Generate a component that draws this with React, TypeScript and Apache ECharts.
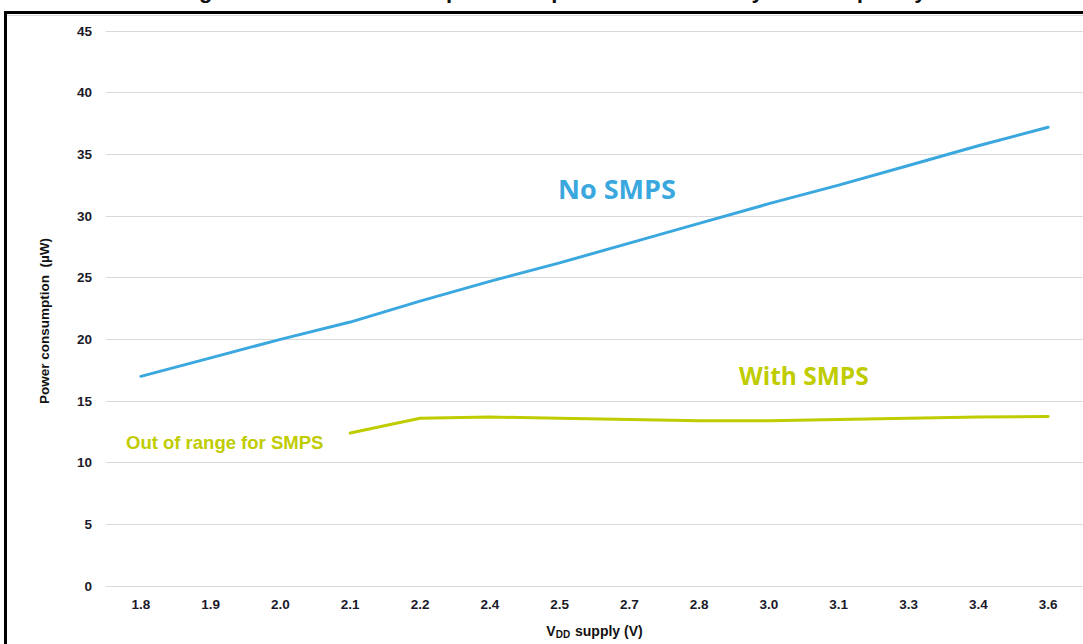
import React, { useEffect, useRef } from "react";
import * as echarts from "echarts";

const categories = ["1.8", "1.9", "2.0", "2.1", "2.2", "2.4", "2.5", "2.7", "2.8", "3.0", "3.1", "3.3", "3.4", "3.6"];
const noSmps = [17.0, 18.5, 20.0, 21.4, 23.1, 24.7, 26.2, 27.8, 29.4, 31.0, 32.5, 34.1, 35.7, 37.2];
const withSmps = [null, null, null, 12.4, 13.6, 13.7, 13.6, 13.5, 13.4, 13.4, 13.5, 13.6, 13.7, 13.75];
const yTicks = { min: 0, max: 45, interval: 5 };

const BLUE = "#3aa8de";
const GREEN = "#bfcc00";

export default function App() {
  const ref = useRef<HTMLDivElement>(null);
  useEffect(() => {
    const chart = echarts.init(ref.current!, null, { renderer: "svg" });
    chart.setOption({
      animation: false,
      backgroundColor: "#ffffff",
      grid: { left: 106, right: -4, top: 31, bottom: 57, containLabel: false },
      xAxis: {
        type: "category",
        data: categories,
        boundaryGap: true,
        axisLine: { show: true, lineStyle: { color: "#d9d9d9", width: 1 } },
        axisTick: { show: false },
        axisLabel: {
          margin: 11,
          color: "#1a1a2a",
          fontFamily: "Liberation Sans",
          fontWeight: "bold",
          fontSize: 13.5,
        },
        name: "V{sub|DD} supply (V)",
        nameLocation: "middle",
        nameGap: 37,
        nameTextStyle: {
          color: "#111",
          fontFamily: "Liberation Sans",
          fontWeight: "bold",
          fontSize: 14,
          rich: {
            sub: {
              fontSize: 10,
              fontFamily: "Liberation Sans",
              fontWeight: "bold",
              color: "#111",
              verticalAlign: "bottom",
              padding: [6, 1, 0, 0],
            },
          },
        },
      },
      yAxis: {
        type: "value",
        min: yTicks.min,
        max: yTicks.max,
        interval: yTicks.interval,
        axisLine: { show: false },
        axisTick: { show: false },
        splitLine: { show: true, lineStyle: { color: "#d9d9d9", width: 1 } },
        axisLabel: {
          margin: 14,
          color: "#1a1a2a",
          fontFamily: "Liberation Sans",
          fontWeight: "bold",
          fontSize: 13.5,
        },
      },
      series: [
        {
          name: "No SMPS",
          type: "line",
          data: noSmps,
          symbol: "none",
          lineStyle: { color: BLUE, width: 3, cap: "round" },
          itemStyle: { color: BLUE },
        },
        {
          name: "With SMPS",
          type: "line",
          data: withSmps,
          symbol: "none",
          connectNulls: false,
          lineStyle: { color: GREEN, width: 3, cap: "round" },
          itemStyle: { color: GREEN },
        },
      ],
      graphic: [
        {
          type: "text",
          x: 553,
          y: 1,
          style: {
            text: "Figure 15. Power consumption comparison based on system frequency",
            fill: "#111",
            font: "bold 22px 'Liberation Sans'",
            textAlign: "center",
            textVerticalAlign: "bottom",
          },
          z: 100,
        },
        { type: "line", shape: { x1: 5, y1: 12.5, x2: 1083, y2: 12.5 }, style: { stroke: "#000", lineWidth: 3 }, z: 100 },
        { type: "line", shape: { x1: 5.5, y1: 11, x2: 5.5, y2: 644 }, style: { stroke: "#000", lineWidth: 3 }, z: 100 },
        { type: "line", shape: { x1: 7, y1: 15.5, x2: 1083, y2: 15.5 }, style: { stroke: "#d9d9d9", lineWidth: 1 }, z: 100 },
        {
          type: "text",
          x: 44,
          y: 321,
          rotation: Math.PI / 2,
          style: {
            text: "Power consumption  (\u00b5W)",
            fill: "#111",
            font: "bold 13.5px 'Liberation Sans'",
            textAlign: "center",
            textVerticalAlign: "middle",
          },
        },
        {
          type: "text",
          x: 558,
          y: 188,
          style: { text: "No SMPS", fill: BLUE, font: "bold 27px 'Open Sans'", textVerticalAlign: "middle" },
        },
        {
          type: "text",
          x: 739,
          y: 375,
          style: { text: "With SMPS", fill: GREEN, font: "bold 24.5px 'Open Sans'", textVerticalAlign: "middle" },
        },
        {
          type: "text",
          x: 126,
          y: 442,
          style: { text: "Out of range for SMPS", fill: GREEN, font: "bold 18.5px 'Liberation Sans'", textVerticalAlign: "middle" },
        },
      ],
    });
    return () => chart.dispose();
  }, []);
  return <div ref={ref} style={{ position: "absolute", left: 0, top: 0, width: 1083, height: 644 }} />;
}
